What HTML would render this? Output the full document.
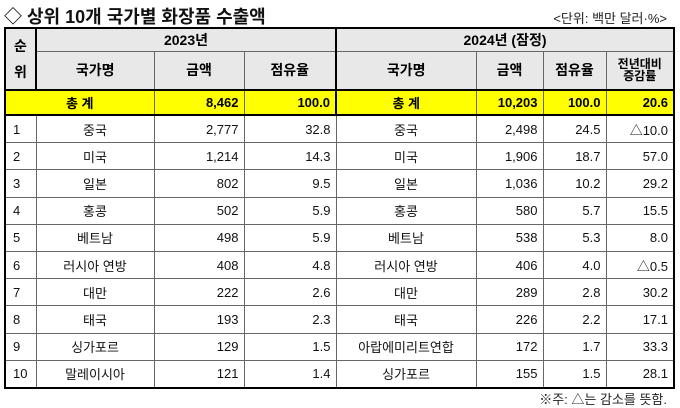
<!DOCTYPE html><html><head><meta charset="utf-8"><style>
body{margin:0;background:#fff;width:680px;height:407px;overflow:hidden;font-family:"Liberation Sans","Noto Sans CJK KR",sans-serif;color:#111}
table{position:absolute;left:4px;top:27px;border-collapse:collapse;table-layout:fixed;border:2.5px solid #000}
td{border:1px solid #666;padding:0 5px;font-size:13px;white-space:nowrap;overflow:hidden}
.h td{background:#e8e8e8;text-align:center;font-weight:bold;font-size:14px;color:#000}
.tot td{background:#ffff00;font-weight:bold;font-size:13px;border-top:2.5px solid #000;border-bottom:2.5px solid #000;color:#000}
.c{text-align:center}.r{text-align:right}
tr.d td{height:26.2px;padding-top:0;padding-bottom:0}
tr.d td:first-child{padding-left:7px}
</style></head><body>
<div style="position:absolute;left:4px;top:3px;font-size:18px;font-weight:bold">◇ 상위 10개 국가별 화장품 수출액</div>
<div style="position:absolute;right:13px;top:8px;font-size:13px;color:#222">&lt;단위: 백만 달러·%&gt;</div>
<table>
<colgroup><col style="width:31px"><col style="width:118px"><col style="width:90px"><col style="width:92px"><col style="width:140px"><col style="width:67px"><col style="width:63px"><col style="width:68px"></colgroup>
<tr class="h" style="height:23px"><td rowspan="2" style="font-size:14px;line-height:26px;border-right:2.5px solid #000">순<br>위</td><td colspan="3" style="border-bottom:1px solid #666">2023년</td><td colspan="4" style="border-left:2px solid #000">2024년 (잠정)</td></tr>
<tr class="h" style="height:39px"><td>국가명</td><td>금액</td><td>점유율</td><td style="border-left:2px solid #000">국가명</td><td>금액</td><td>점유율</td><td style="font-size:12px;line-height:12px">전년대비<br>증감률</td></tr>
<tr class="tot" style="height:25px"><td colspan="2" class="c">총 계</td><td class="r">8,462</td><td class="r">100.0</td><td class="c" style="border-left:2px solid #000">총 계</td><td class="r">10,203</td><td class="r">100.0</td><td class="r">20.6</td></tr>
<tr class="d"><td>1</td><td class="c">중국</td><td class="r">2,777</td><td class="r">32.8</td><td class="c">중국</td><td class="r">2,498</td><td class="r">24.5</td><td class="r">△10.0</td></tr>
<tr class="d"><td>2</td><td class="c">미국</td><td class="r">1,214</td><td class="r">14.3</td><td class="c">미국</td><td class="r">1,906</td><td class="r">18.7</td><td class="r">57.0</td></tr>
<tr class="d"><td>3</td><td class="c">일본</td><td class="r">802</td><td class="r">9.5</td><td class="c">일본</td><td class="r">1,036</td><td class="r">10.2</td><td class="r">29.2</td></tr>
<tr class="d"><td>4</td><td class="c">홍콩</td><td class="r">502</td><td class="r">5.9</td><td class="c">홍콩</td><td class="r">580</td><td class="r">5.7</td><td class="r">15.5</td></tr>
<tr class="d"><td>5</td><td class="c">베트남</td><td class="r">498</td><td class="r">5.9</td><td class="c">베트남</td><td class="r">538</td><td class="r">5.3</td><td class="r">8.0</td></tr>
<tr class="d"><td>6</td><td class="c">러시아 연방</td><td class="r">408</td><td class="r">4.8</td><td class="c">러시아 연방</td><td class="r">406</td><td class="r">4.0</td><td class="r">△0.5</td></tr>
<tr class="d"><td>7</td><td class="c">대만</td><td class="r">222</td><td class="r">2.6</td><td class="c">대만</td><td class="r">289</td><td class="r">2.8</td><td class="r">30.2</td></tr>
<tr class="d"><td>8</td><td class="c">태국</td><td class="r">193</td><td class="r">2.3</td><td class="c">태국</td><td class="r">226</td><td class="r">2.2</td><td class="r">17.1</td></tr>
<tr class="d"><td>9</td><td class="c">싱가포르</td><td class="r">129</td><td class="r">1.5</td><td class="c">아랍에미리트연합</td><td class="r">172</td><td class="r">1.7</td><td class="r">33.3</td></tr>
<tr class="d"><td>10</td><td class="c">말레이시아</td><td class="r">121</td><td class="r">1.4</td><td class="c">싱가포르</td><td class="r">155</td><td class="r">1.5</td><td class="r">28.1</td></tr>
</table>
<div style="position:absolute;right:13px;top:389px;font-size:13px;color:#222">※주: △는 감소를 뜻함.</div>
</body></html>
